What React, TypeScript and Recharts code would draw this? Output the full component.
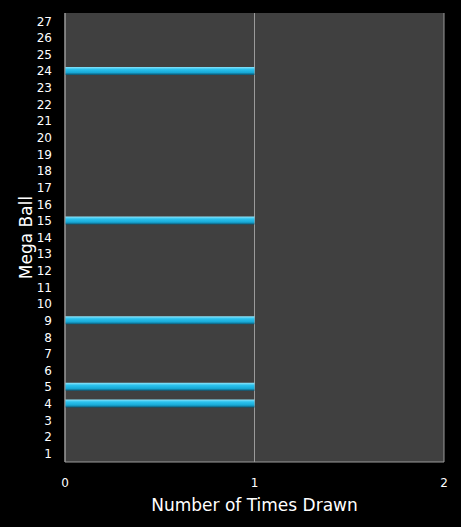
import React from 'react';
import { BarChart, Bar, XAxis, YAxis, CartesianGrid } from 'recharts';

// Mega Ball numbers 1..27 and how many times each was drawn
const megaBalls = [
  '1', '2', '3', '4', '5', '6', '7', '8', '9', '10', '11', '12', '13', '14',
  '15', '16', '17', '18', '19', '20', '21', '22', '23', '24', '25', '26', '27',
];
const timesDrawn = [
  0, 0, 0, 1, 1, 0, 0, 0, 1, 0, 0, 0, 0, 0,
  1, 0, 0, 0, 0, 0, 0, 0, 0, 1, 0, 0, 0,
];
const xTicks = [0, 1, 2];

const chartData = megaBalls.map((ball, i) => ({ ball, count: timesDrawn[i] }));

const FONT = '"DejaVu Sans", Verdana, sans-serif';

export default function App() {
  return (
    <div style={{ position: 'absolute', left: 0, top: 0, width: 461, height: 527, background: '#000' }}>
      <BarChart
        width={461}
        height={527}
        data={chartData}
        layout="vertical"
        margin={{ top: 13, right: 17, bottom: 0, left: 0 }}
      >
        <defs>
          <linearGradient id="barFill" x1="0" y1="0" x2="0" y2="1">
            <stop offset="0%" stopColor="#8fe4fa" />
            <stop offset="30%" stopColor="#2cc3ef" />
            <stop offset="70%" stopColor="#18a9d6" />
            <stop offset="100%" stopColor="#0b5470" />
          </linearGradient>
        </defs>
        <CartesianGrid horizontal={false} stroke="#9a9a9a" fill="#404040" />
        <XAxis
          type="number"
          domain={[0, 2]}
          ticks={xTicks}
          height={65}
          axisLine={{ stroke: '#9a9a9a' }}
          tickLine={false}
          tickSize={0}
          tickMargin={16}
          tick={{ fill: '#ffffff', fontSize: 12, fontFamily: FONT }}
          label={{
            value: 'Number of Times Drawn',
            position: 'insideBottom',
            offset: 16,
            fill: '#ffffff',
            fontSize: 17,
            fontFamily: FONT,
          }}
        />
        <YAxis
          type="category"
          dataKey="ball"
          reversed
          width={65}
          interval={0}
          axisLine={{ stroke: '#9a9a9a' }}
          tickLine={false}
          tickSize={0}
          tickMargin={13}
          tick={{ fill: '#ffffff', fontSize: 12, fontFamily: FONT }}
          label={{
            value: 'Mega Ball',
            angle: -90,
            position: 'insideLeft',
            offset: 26,
            fill: '#ffffff',
            fontSize: 17,
            fontFamily: FONT,
            style: { textAnchor: 'middle' },
          }}
        />
        <Bar dataKey="count" barSize={8} fill="url(#barFill)" isAnimationActive={false} />
      </BarChart>
    </div>
  );
}
